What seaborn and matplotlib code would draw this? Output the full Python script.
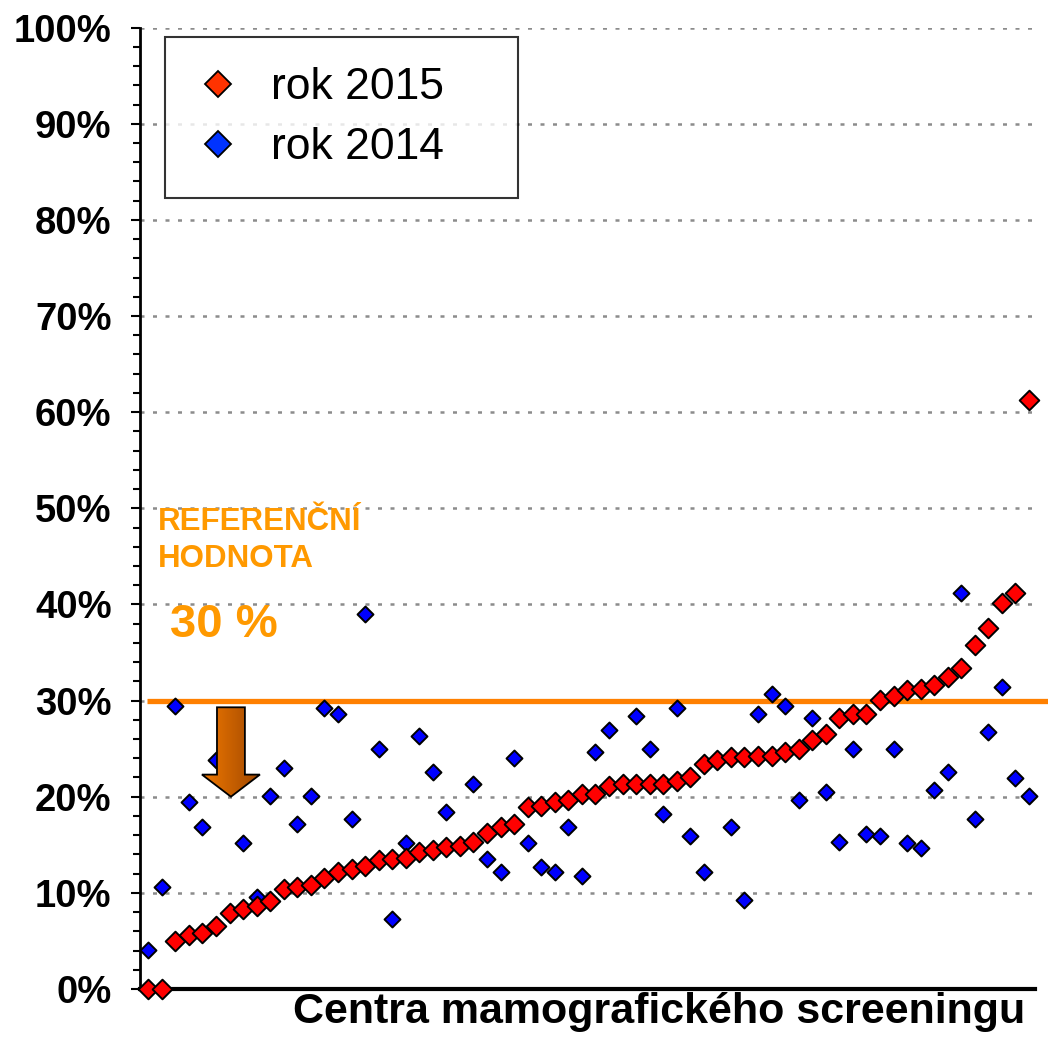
import numpy as np
import pandas as pd
import matplotlib
matplotlib.use("Agg")
import matplotlib.pyplot as plt
import seaborn as sns
from matplotlib.lines import Line2D
from matplotlib.patches import Polygon
from matplotlib.ticker import MultipleLocator
from matplotlib.colors import LinearSegmentedColormap

# podíl v % pro jednotlivá centra (2015 seřazeno vzestupně, 2014 ve stejném pořadí center)
rok_2015 = [0, 0, 5.0, 5.6, 5.8, 6.6, 7.9, 8.3, 8.6, 9.2,
            10.4, 10.6, 10.8, 11.5, 12.2, 12.5, 12.8, 13.4, 13.5, 13.6,
            14.3, 14.5, 14.8, 14.9, 15.3, 16.2, 16.8, 17.2, 18.9, 19.0,
            19.5, 19.7, 20.3, 20.3, 21.1, 21.3, 21.3, 21.3, 21.3, 21.6,
            22.0, 23.4, 23.8, 24.1, 24.1, 24.2, 24.2, 24.6, 25.0, 25.9,
            26.5, 28.2, 28.6, 28.6, 30.1, 30.5, 31.1, 31.2, 31.6, 32.5,
            33.4, 35.8, 37.5, 40.2, 41.2, 61.3]
rok_2014 = [4.1, 10.6, 29.4, 19.5, 16.8, 23.8, np.nan, 15.2, 9.6, 20.1,
            23.0, 17.2, 20.1, 29.2, 28.6, 17.7, 39.0, 25.0, 7.3, 15.2,
            26.3, 22.6, 18.4, np.nan, 21.3, 13.5, 12.2, 24.0, 15.2, 12.7,
            12.2, 16.8, 11.8, 24.7, 26.9, np.nan, 28.4, 25.0, 18.2, 29.2,
            15.9, 12.2, np.nan, 16.8, 9.3, 28.6, 30.7, 29.4, 19.7, 28.2,
            20.5, 15.3, 25.0, 16.1, 15.9, 25.0, 15.2, 14.7, 20.7, 22.6,
            41.2, 17.7, 26.7, 31.4, 21.9, 20.1]
centrum = list(range(len(rok_2015)))
referencni_hodnota = 30
y_ticks = [0, 10, 20, 30, 40, 50, 60, 70, 80, 90, 100]
y_labels = ['0%', '10%', '20%', '30%', '40%', '50%', '60%', '70%', '80%', '90%', '100%']

df = pd.DataFrame({'centrum': centrum, 'rok 2015': rok_2015, 'rok 2014': rok_2014})

sns.set_style("white")
plt.rcParams['font.family'] = ['Liberation Sans', 'DejaVu Sans']
plt.rcParams['text.color'] = 'black'
plt.rcParams['ytick.color'] = 'black'
plt.rcParams['ytick.labelcolor'] = 'black'

fig = plt.figure(figsize=(10.48, 10.43), dpi=100)
ax = fig.add_axes([0.1336, 0.0518, 0.854, 0.9217])

# mřížka
for t in y_ticks[1:]:
    ax.axhline(t, color='#8c8c8c', lw=1.8, dashes=(1.6, 3.4), zorder=0)

# referenční čára
ax.plot([-0.1, 66.5], [referencni_hodnota, referencni_hodnota], color='#FF8000',
        lw=3.8, clip_on=False, zorder=1, solid_capstyle='butt')

sns.scatterplot(data=df, x='centrum', y='rok 2014', marker='D', s=66, color='#0000FF',
                edgecolor='black', linewidth=1.4, ax=ax, zorder=3, clip_on=False, legend=False)
sns.scatterplot(data=df, x='centrum', y='rok 2015', marker='D', s=100, color='#FF0000',
                edgecolor='black', linewidth=1.4, ax=ax, zorder=4, clip_on=False, legend=False)

# šipka s přechodem barvy
ax_c = 6.1
sw, hw = 1.03, 2.14
arrow_pts = [(ax_c - sw, 29.3), (ax_c + sw, 29.3), (ax_c + sw, 22.3), (ax_c + hw, 22.3),
             (ax_c, 20.0), (ax_c - hw, 22.3), (ax_c - sw, 22.3)]
arrow = Polygon(arrow_pts, closed=True, facecolor='none', edgecolor='black', lw=1.3, zorder=6)
ax.add_patch(arrow)
grad = np.linspace(0, 1, 100).reshape(1, -1)
cmap = LinearSegmentedColormap.from_list('sip', ['#F07800', '#A04800'])
im = ax.imshow(grad, extent=(ax_c - hw, ax_c + hw, 20.0, 29.3), aspect='auto', cmap=cmap,
               zorder=5, interpolation='bilinear')
im.set_clip_path(arrow)
ax.set_xlim(-0.61, 65.44)
ax.set_ylim(0, 100)

# texty
ax.text(0.72, 47.7, 'REFERENČNÍ', color='#FF9900', fontsize=22.5, fontweight='bold', va='baseline')
ax.text(0.72, 43.9, 'HODNOTA', color='#FF9900', fontsize=22.5, fontweight='bold', va='baseline')
ax.text(1.6, 36.6, '30 %', color='#FF9900', fontsize=34, fontweight='bold', va='baseline')

# osy
sns.despine(ax=ax)
ax.spines['left'].set_linewidth(2)
ax.spines['bottom'].set_linewidth(3)
ax.spines['left'].set_color('black')
ax.spines['bottom'].set_color('black')
ax.set_xticks([])
ax.set_yticks(y_ticks)
ax.set_yticklabels(y_labels, fontsize=27.5, fontweight='bold')
ax.yaxis.set_minor_locator(MultipleLocator(2))
ax.tick_params(axis='y', which='major', direction='out', length=6.5, width=1.5, pad=14, left=True)
ax.tick_params(axis='y', which='minor', direction='out', length=5, width=1.5, left=True)
ax.set_xlabel('')
ax.set_ylabel('')

fig.text(1025 / 1048, 0.0192, 'Centra mamografického screeningu', fontsize=31,
         fontweight='bold', ha='right', va='baseline')

handles = [Line2D([], [], marker='D', ls='none', markersize=13.5, markerfacecolor='#FF3300',
                  markeredgecolor='black', markeredgewidth=1.3),
           Line2D([], [], marker='D', ls='none', markersize=13.5, markerfacecolor='#0033FF',
                  markeredgecolor='black', markeredgewidth=1.3)]
leg = ax.legend(handles, ['rok 2015', 'rok 2014'], loc='upper left',
                bbox_to_anchor=(0.028, 0.831, 0.394, 0.159), mode='expand',
                borderaxespad=0, fontsize=32, frameon=True, fancybox=False,
                borderpad=0.68, handlelength=1.0, handletextpad=0.7, labelspacing=0.42)
leg.get_frame().set_edgecolor('black')
leg.get_frame().set_linewidth(1.5)
leg.set_zorder(10)

fig.savefig('out.png', dpi=100)
